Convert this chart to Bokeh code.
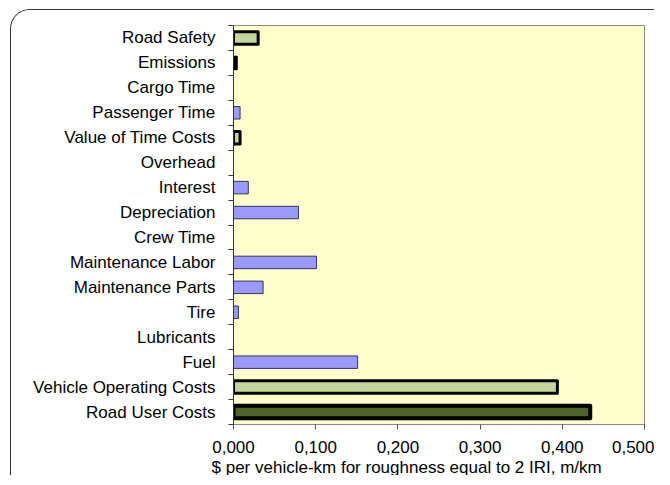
from bokeh.plotting import figure
from bokeh.models import FixedTicker, Title, ColumnDataSource
from bokeh.embed import file_html
from bokeh.resources import INLINE

categories = ["Road Safety", "Emissions", "Cargo Time", "Passenger Time",
              "Value of Time Costs", "Overhead", "Interest", "Depreciation",
              "Crew Time", "Maintenance Labor", "Maintenance Parts", "Tire",
              "Lubricants", "Fuel", "Vehicle Operating Costs", "Road User Costs"]
values = [0.030, 0.004, 0.000, 0.008, 0.008, 0.000, 0.018, 0.079,
          0.000, 0.101, 0.036, 0.006, 0.000, 0.151, 0.394, 0.434]
x_ticks = [0.0, 0.1, 0.2, 0.3, 0.4, 0.5]
x_tick_labels = ["0,000", "0,100", "0,200", "0,300", "0,400", "0,500"]
x_title = "$ per vehicle-km for roughness equal to 2 IRI, m/km"

n = len(categories)
ypos = [n - 1 - i for i in range(n)]

blue = "#9999FF"
green = "#C3D69B"
dark = "#4F6228"
fills, lines, widths = [], [], []
for c in categories:
    if c == "Road User Costs":
        fills.append(dark); lines.append("#000000"); widths.append(4)
    elif c in ("Road Safety", "Vehicle Operating Costs", "Value of Time Costs"):
        fills.append(green); lines.append("#000000"); widths.append(3)
    elif c == "Emissions":
        fills.append("#000000"); lines.append("#000000"); widths.append(2)
    else:
        fills.append(blue); lines.append("#333366"); widths.append(1)

src = ColumnDataSource(dict(y=ypos, v=values, f=fills, l=lines, w=widths))

p = figure(width=644, height=466, output_backend="svg", toolbar_location=None,
           x_range=(0, 0.5), y_range=(-0.5, n - 0.5),
           min_border_left=222, min_border_right=11, min_border_top=15,
           min_border_bottom=50)
p.styles = {"margin-left": "10px", "margin-top": "9px",
            "border-left": "1px solid #333333", "border-top": "1px solid #333333",
            "border-top-left-radius": "20px", "overflow": "hidden"}
p.background_fill_color = "#FFFFCC"
p.border_fill_color = "white"
p.outline_line_color = "#888888"
p.xgrid.visible = False
p.ygrid.visible = False

p.hbar(y="y", left=0, right="v", height=0.5, fill_color="f", line_color="l",
       line_width="w", source=src, line_join="round")

font = "Liberation Sans"
p.xaxis.ticker = FixedTicker(ticks=x_ticks)
p.xaxis.major_label_overrides = {t: s for t, s in zip(x_ticks, x_tick_labels)}
p.xaxis.major_label_text_font = font
p.xaxis.major_label_text_font_size = "17px"
p.xaxis.major_label_text_color = "black"
p.xaxis.major_tick_out = 5
p.xaxis.major_tick_in = 0
p.xaxis.minor_tick_line_color = None
p.xaxis.axis_line_color = "#888888"
p.xaxis.major_tick_line_color = "#555555"
p.xaxis.major_label_standoff = 11

p.yaxis.ticker = FixedTicker(ticks=ypos, minor_ticks=[i - 0.5 for i in range(n + 1)])
p.yaxis.major_label_overrides = {y: c for y, c in zip(ypos, categories)}
p.yaxis.major_label_text_font = font
p.yaxis.major_label_text_font_size = "17px"
p.yaxis.major_label_text_color = "black"
p.yaxis.major_tick_out = 0
p.yaxis.major_tick_in = 0
p.yaxis.minor_tick_out = 5
p.yaxis.minor_tick_in = 0
p.yaxis.minor_tick_line_color = "#333333"
p.yaxis.axis_line_color = "#333333"
p.yaxis.major_label_standoff = 13

p.add_layout(Title(text=x_title, align="left", offset=-22, standoff=0,
                   text_font=font, text_font_size="17px",
                   text_font_style="normal", text_color="black"), "below")

open("out.html", "w").write(file_html(p, INLINE))
